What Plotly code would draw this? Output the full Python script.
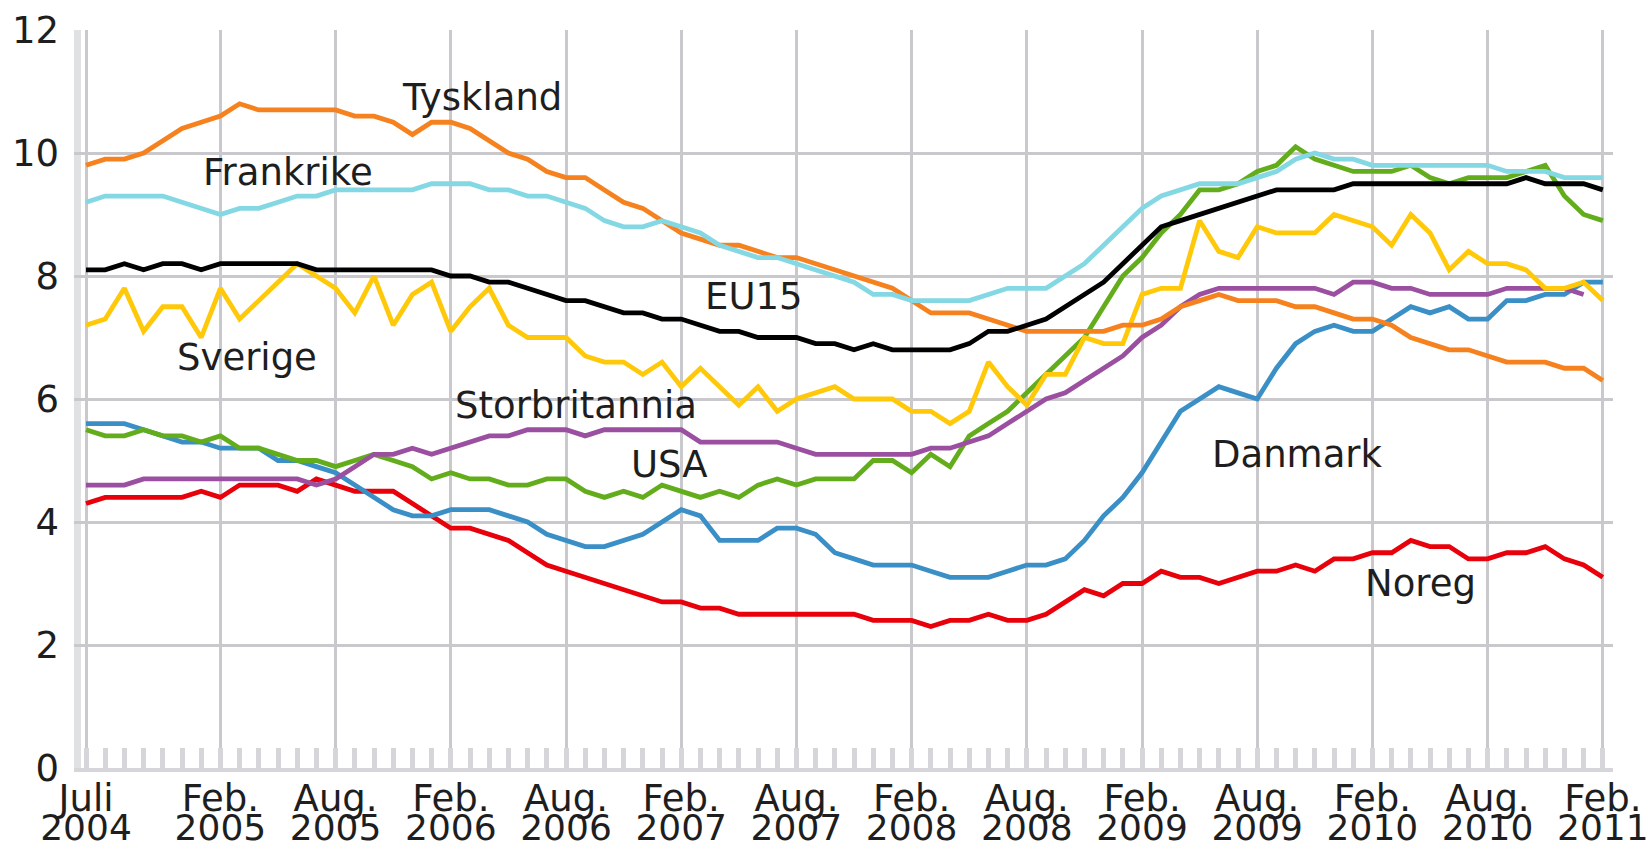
import plotly.graph_objects as go

months = list(range(80))  # 0 = Juli 2004 ... 79 = Feb. 2011
tick_pos = [0, 7, 13, 19, 25, 31, 37, 43, 49, 55, 61, 67, 73, 79]
tick_month = ["Juli", "Feb.", "Aug.", "Feb.", "Aug.", "Feb.", "Aug.", "Feb.",
              "Aug.", "Feb.", "Aug.", "Feb.", "Aug.", "Feb."]
tick_year = ["2004", "2005", "2005", "2006", "2006", "2007", "2007", "2008",
             "2008", "2009", "2009", "2010", "2010", "2011"]
y_ticks = [0, 2, 4, 6, 8, 10, 12]

tyskland = [9.8, 9.9, 9.9, 10.0, 10.2, 10.4, 10.5, 10.6, 10.8, 10.7,
            10.7, 10.7, 10.7, 10.7, 10.6, 10.6, 10.5, 10.3, 10.5, 10.5,
            10.4, 10.2, 10.0, 9.9, 9.7, 9.6, 9.6, 9.4, 9.2, 9.1,
            8.9, 8.7, 8.6, 8.5, 8.5, 8.4, 8.3, 8.3, 8.2, 8.1,
            8.0, 7.9, 7.8, 7.6, 7.4, 7.4, 7.4, 7.3, 7.2, 7.1,
            7.1, 7.1, 7.1, 7.1, 7.2, 7.2, 7.3, 7.5, 7.6, 7.7,
            7.6, 7.6, 7.6, 7.5, 7.5, 7.4, 7.3, 7.3, 7.2, 7.0,
            6.9, 6.8, 6.8, 6.7, 6.6, 6.6, 6.6, 6.5, 6.5, 6.3]
frankrike = [9.2, 9.3, 9.3, 9.3, 9.3, 9.2, 9.1, 9.0, 9.1, 9.1,
             9.2, 9.3, 9.3, 9.4, 9.4, 9.4, 9.4, 9.4, 9.5, 9.5,
             9.5, 9.4, 9.4, 9.3, 9.3, 9.2, 9.1, 8.9, 8.8, 8.8,
             8.9, 8.8, 8.7, 8.5, 8.4, 8.3, 8.3, 8.2, 8.1, 8.0,
             7.9, 7.7, 7.7, 7.6, 7.6, 7.6, 7.6, 7.7, 7.8, 7.8,
             7.8, 8.0, 8.2, 8.5, 8.8, 9.1, 9.3, 9.4, 9.5, 9.5,
             9.5, 9.6, 9.7, 9.9, 10.0, 9.9, 9.9, 9.8, 9.8, 9.8,
             9.8, 9.8, 9.8, 9.8, 9.7, 9.7, 9.7, 9.6, 9.6, 9.6]
eu15 = [8.1, 8.1, 8.2, 8.1, 8.2, 8.2, 8.1, 8.2, 8.2, 8.2,
        8.2, 8.2, 8.1, 8.1, 8.1, 8.1, 8.1, 8.1, 8.1, 8.0,
        8.0, 7.9, 7.9, 7.8, 7.7, 7.6, 7.6, 7.5, 7.4, 7.4,
        7.3, 7.3, 7.2, 7.1, 7.1, 7.0, 7.0, 7.0, 6.9, 6.9,
        6.8, 6.9, 6.8, 6.8, 6.8, 6.8, 6.9, 7.1, 7.1, 7.2,
        7.3, 7.5, 7.7, 7.9, 8.2, 8.5, 8.8, 8.9, 9.0, 9.1,
        9.2, 9.3, 9.4, 9.4, 9.4, 9.4, 9.5, 9.5, 9.5, 9.5,
        9.5, 9.5, 9.5, 9.5, 9.5, 9.6, 9.5, 9.5, 9.5, 9.4]
sverige = [7.2, 7.3, 7.8, 7.1, 7.5, 7.5, 7.0, 7.8, 7.3, 7.6,
           7.9, 8.2, 8.0, 7.8, 7.4, 8.0, 7.2, 7.7, 7.9, 7.1,
           7.5, 7.8, 7.2, 7.0, 7.0, 7.0, 6.7, 6.6, 6.6, 6.4,
           6.6, 6.2, 6.5, 6.2, 5.9, 6.2, 5.8, 6.0, 6.1, 6.2,
           6.0, 6.0, 6.0, 5.8, 5.8, 5.6, 5.8, 6.6, 6.2, 5.9,
           6.4, 6.4, 7.0, 6.9, 6.9, 7.7, 7.8, 7.8, 8.9, 8.4,
           8.3, 8.8, 8.7, 8.7, 8.7, 9.0, 8.9, 8.8, 8.5, 9.0,
           8.7, 8.1, 8.4, 8.2, 8.2, 8.1, 7.8, 7.8, 7.9, 7.6]
storbritannia = [4.6, 4.6, 4.6, 4.7, 4.7, 4.7, 4.7, 4.7, 4.7, 4.7,
                 4.7, 4.7, 4.6, 4.7, 4.9, 5.1, 5.1, 5.2, 5.1, 5.2,
                 5.3, 5.4, 5.4, 5.5, 5.5, 5.5, 5.4, 5.5, 5.5, 5.5,
                 5.5, 5.5, 5.3, 5.3, 5.3, 5.3, 5.3, 5.2, 5.1, 5.1,
                 5.1, 5.1, 5.1, 5.1, 5.2, 5.2, 5.3, 5.4, 5.6, 5.8,
                 6.0, 6.1, 6.3, 6.5, 6.7, 7.0, 7.2, 7.5, 7.7, 7.8,
                 7.8, 7.8, 7.8, 7.8, 7.8, 7.7, 7.9, 7.9, 7.8, 7.8,
                 7.7, 7.7, 7.7, 7.7, 7.8, 7.8, 7.8, 7.8, 7.7, None]
usa = [5.5, 5.4, 5.4, 5.5, 5.4, 5.4, 5.3, 5.4, 5.2, 5.2,
       5.1, 5.0, 5.0, 4.9, 5.0, 5.1, 5.0, 4.9, 4.7, 4.8,
       4.7, 4.7, 4.6, 4.6, 4.7, 4.7, 4.5, 4.4, 4.5, 4.4,
       4.6, 4.5, 4.4, 4.5, 4.4, 4.6, 4.7, 4.6, 4.7, 4.7,
       4.7, 5.0, 5.0, 4.8, 5.1, 4.9, 5.4, 5.6, 5.8, 6.1,
       6.4, 6.7, 7.0, 7.5, 8.0, 8.3, 8.7, 9.0, 9.4, 9.4,
       9.5, 9.7, 9.8, 10.1, 9.9, 9.8, 9.7, 9.7, 9.7, 9.8,
       9.6, 9.5, 9.6, 9.6, 9.6, 9.7, 9.8, 9.3, 9.0, 8.9]
danmark = [5.6, 5.6, 5.6, 5.5, 5.4, 5.3, 5.3, 5.2, 5.2, 5.2,
           5.0, 5.0, 4.9, 4.8, 4.6, 4.4, 4.2, 4.1, 4.1, 4.2,
           4.2, 4.2, 4.1, 4.0, 3.8, 3.7, 3.6, 3.6, 3.7, 3.8,
           4.0, 4.2, 4.1, 3.7, 3.7, 3.7, 3.9, 3.9, 3.8, 3.5,
           3.4, 3.3, 3.3, 3.3, 3.2, 3.1, 3.1, 3.1, 3.2, 3.3,
           3.3, 3.4, 3.7, 4.1, 4.4, 4.8, 5.3, 5.8, 6.0, 6.2,
           6.1, 6.0, 6.5, 6.9, 7.1, 7.2, 7.1, 7.1, 7.3, 7.5,
           7.4, 7.5, 7.3, 7.3, 7.6, 7.6, 7.7, 7.7, 7.9, 7.9]
noreg = [4.3, 4.4, 4.4, 4.4, 4.4, 4.4, 4.5, 4.4, 4.6, 4.6,
         4.6, 4.5, 4.7, 4.6, 4.5, 4.5, 4.5, 4.3, 4.1, 3.9,
         3.9, 3.8, 3.7, 3.5, 3.3, 3.2, 3.1, 3.0, 2.9, 2.8,
         2.7, 2.7, 2.6, 2.6, 2.5, 2.5, 2.5, 2.5, 2.5, 2.5,
         2.5, 2.4, 2.4, 2.4, 2.3, 2.4, 2.4, 2.5, 2.4, 2.4,
         2.5, 2.7, 2.9, 2.8, 3.0, 3.0, 3.2, 3.1, 3.1, 3.0,
         3.1, 3.2, 3.2, 3.3, 3.2, 3.4, 3.4, 3.5, 3.5, 3.7,
         3.6, 3.6, 3.4, 3.4, 3.5, 3.5, 3.6, 3.4, 3.3, 3.1]

series = [
    ("Noreg", noreg, "#e8000b"),
    ("Danmark", danmark, "#3a8fc6"),
    ("USA", usa, "#63ad1c"),
    ("Storbritannia", storbritannia, "#9b4fa0"),
    ("Sverige", sverige, "#ffc90a"),
    ("Tyskland", tyskland, "#f5821f"),
    ("Frankrike", frankrike, "#84d8e4"),
    ("EU15", eu15, "#000000"),
]

# label positions (month index, value)
labels = [
    ("Tyskland", 20.6, 10.91),
    ("Frankrike", 10.5, 9.69),
    ("EU15", 34.8, 7.66),
    ("Sverige", 8.4, 6.67),
    ("Storbritannia", 25.5, 5.89),
    ("USA", 30.4, 4.94),
    ("Danmark", 63.1, 5.10),
    ("Noreg", 69.5, 3.00),
]

FONT = "DejaVu Sans"
TXT = "#1e1e1e"
GRID = "#c9c9cd"

fig = go.Figure()
for name, vals, col in series:
    fig.add_trace(go.Scatter(x=months, y=vals, mode="lines", name=name,
                             line=dict(color=col, width=4.8), showlegend=False,
                             connectgaps=False))

# invisible trace on the secondary x axis (years row of tick labels)
fig.add_trace(go.Scatter(x=[months[0]], y=[None], xaxis="x2", showlegend=False,
                         hoverinfo="skip"))

for text, xm, yv in labels:
    fig.add_annotation(x=xm, y=yv, text=text, showarrow=False,
                       xanchor="center", yanchor="middle",
                       font=dict(family=FONT, size=37, color=TXT))

# light vertical band along the left edge of the plot
fig.add_shape(type="rect", xref="x", yref="y", x0=-0.68, x1=-0.26, y0=0, y1=12,
              fillcolor="#e0e1e3", line=dict(width=0), layer="below")

xrange = [-0.625, 79.53]
fig.update_layout(
    width=1648, height=844,
    margin=dict(l=74, r=35, t=30, b=76),
    paper_bgcolor="white", plot_bgcolor="white",
    xaxis=dict(range=xrange, tickmode="array", tickvals=tick_pos, ticktext=tick_month,
               showgrid=True, gridcolor=GRID, gridwidth=3, zeroline=False,
               showline=True, linecolor="#d6d6da", linewidth=4,
               ticks="", ticklabelstandoff=-5, ticklabeloverflow="allow",
               tickfont=dict(family=FONT, size=37, color=TXT),
               minor=dict(tickmode="array", tickvals=months, ticks="inside",
                          ticklen=20, tickwidth=5, tickcolor="#d6d6da", showgrid=False),
               automargin=False, fixedrange=True),
    xaxis2=dict(range=xrange, overlaying="x", anchor="y", side="bottom",
                tickmode="array", tickvals=tick_pos, ticktext=tick_year,
                showgrid=False, zeroline=False, showline=False, ticks="",
                ticklabelstandoff=35, ticklabeloverflow="allow",
                tickfont=dict(family=FONT, size=36, color=TXT),
                automargin=False, fixedrange=True),
    yaxis=dict(range=[0, 12], tickmode="array", tickvals=y_ticks,
               showgrid=True, gridcolor=GRID, gridwidth=3, zeroline=False,
               showline=False,
               ticks="", ticklabelstandoff=14,
               tickfont=dict(family=FONT, size=37, color=TXT),
               automargin=False, fixedrange=True),
)

fig.write_html("out.html", config={"displayModeBar": False},
               post_script="document.body.style.margin='0';document.body.style.overflow='hidden';")
